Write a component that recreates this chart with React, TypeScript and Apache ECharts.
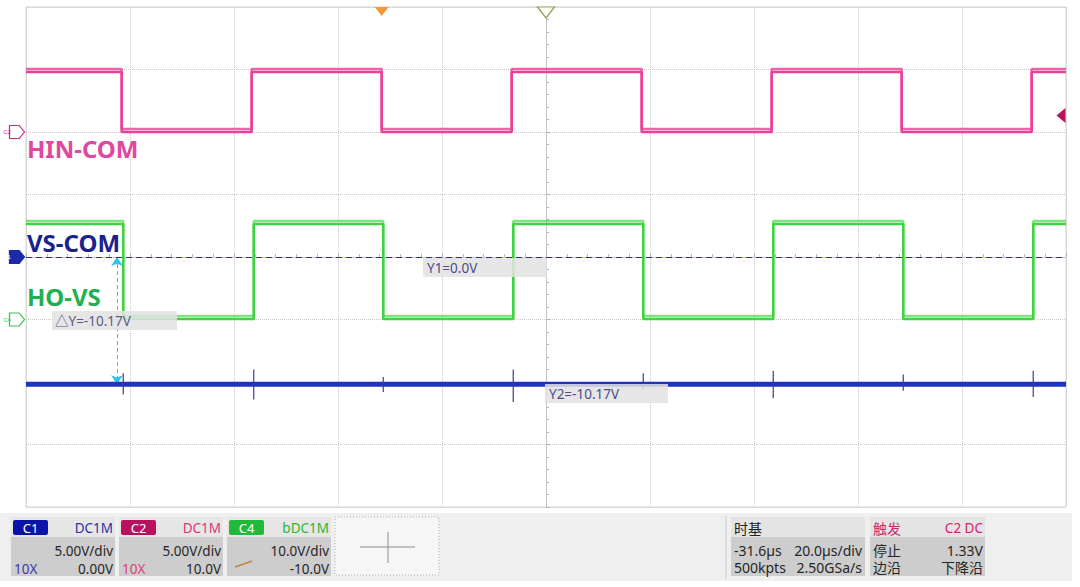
import React, { useEffect, useRef } from "react";
import * as echarts from "echarts";

// ---- Time base (µs) ----
const DELAY = -31.6; // horizontal position readout
const X_MIN = -100;
const X_MAX = 100;
const X_DIV = 20; // µs/div
const Y_MIN = -4;
const Y_MAX = 4;

// ---- Channel settings (V/div, offset V) ----
const C1_SCALE = 5;
const C1_OFFSET = 0;
const C2_SCALE = 5;
const C2_OFFSET = 10;
const C4_SCALE = 10;
const C4_OFFSET = -10;

// ---- HIN-COM (C2) : edge times from trigger (µs) and segment levels (V) ----
const HIN_EDGES = [-50, -25, 0, 25, 50, 75, 100, 125];
const HIN_LEVELS = [4.8, 0.0, 4.8, 0.0, 4.8, 0.0, 4.8, 0.0, 4.8];

// ---- HO-VS (C4) ----
const HO_EDGES = [-49.7, -24.6, 0.3, 25.3, 50.3, 75.3, 100.3, 125.3];
const HO_LEVELS = [15.3, 0.1, 15.3, 0.1, 15.3, 0.1, 15.3, 0.1, 15.3];

// ---- VS-COM (C1) : flat level with switching spikes ----
const VS_LEVEL = -10.17;
const VS_SPIKE_HI = [-9.3, -9.0, -9.6, -9.0, -9.3, -9.1, -9.4, -9.1];
const VS_SPIKE_LO = [-11.0, -11.4, -10.8, -11.6, -10.6, -11.3, -10.7, -11.2];

// ---- Cursors ----
const Y1_VALUE = 0.0;
const Y2_VALUE = -10.17;
const DY_CURSOR_T = -50.9;
const TRIGGER_LEVEL = 1.33;

const FONT = '"Noto Sans", "Noto Sans CJK SC", sans-serif';

const C_PINK = "#ea3f98";
const C_GREEN = "#3fd33f";
const C_BLUE = "#1f33c2";

function pos(v: number, scale: number, offset: number) {
  return (v + offset) / scale;
}

function stepPoints(edges: number[], levels: number[], scale: number, offset: number) {
  const pts: number[][] = [[X_MIN, pos(levels[0], scale, offset)]];
  edges.forEach((t, i) => {
    const x = t + DELAY;
    pts.push([x, pos(levels[i], scale, offset)]);
    pts.push([x, pos(levels[i + 1], scale, offset)]);
  });
  pts.push([X_MAX, pos(levels[levels.length - 1], scale, offset)]);
  return pts;
}

function vsBase() {
  const base = pos(VS_LEVEL, C1_SCALE, C1_OFFSET);
  return [
    [X_MIN, base],
    [X_MAX, base],
  ];
}

function vsSpikes() {
  const out: any[] = [];
  HO_EDGES.forEach((t, i) => {
    const x = t + DELAY;
    out.push([x, pos(VS_SPIKE_HI[i], C1_SCALE, C1_OFFSET)]);
    out.push([x, pos(VS_SPIKE_LO[i], C1_SCALE, C1_OFFSET)]);
    out.push([x, null]);
  });
  return out;
}

function txt(x: number, y: number, text: string, fill: string, o: any = {}) {
  const align = o.align || "left";
  return {
    type: "text",
    x,
    y,
    z: 100,
    silent: true,
    style: {
      text,
      fill,
      fontSize: o.size || 13.5,
      fontFamily: FONT,
      fontWeight: o.weight || "normal",
      align,
      textAlign: align,
      verticalAlign: "middle",
      textVerticalAlign: "middle",
    },
  };
}

function rect(x: number, y: number, w: number, h: number, fill: string, extra: any = {}) {
  return {
    type: "rect",
    z: 90,
    silent: true,
    shape: { x, y, width: w, height: h, r: extra.r || 0 },
    style: { fill, stroke: extra.stroke || null, lineWidth: extra.lineWidth || 0, lineDash: extra.lineDash || null },
  };
}

function line(x1: number, y1: number, x2: number, y2: number, stroke: string, w = 1) {
  return {
    type: "line",
    z: 95,
    silent: true,
    shape: { x1, y1, x2, y2 },
    style: { stroke, lineWidth: w },
  };
}

function channelPanel(x: number, name: string, badge: string, coupling: string, cColor: string, vdiv: string, probe: string, probeColor: string, offset: string) {
  const els: any[] = [
    rect(x, 517, 104, 20, "#e6e6e6"),
    rect(x + 2, 520, 35, 15, badge, { r: 2 }),
    txt(x + 19.5, 528, name, "#ffffff", { align: "center", size: 13 }),
    txt(x + 102, 528, coupling, cColor, { align: "right", size: 13.5 }),
    rect(x, 537, 104, 39, "#cdcdcd"),
    txt(x + 102, 551, vdiv, "#262626", { align: "right" }),
    txt(x + 102, 569, offset, "#262626", { align: "right" }),
  ];
  if (probe) els.push(txt(x + 3, 569, probe, probeColor));
  return els;
}

function buildGraphics() {
  const g: any[] = [];
  // status band
  g.push(rect(0, 513, 1072, 68, "#efefef"));
  g.push(...channelPanel(11, "C1", "#0b14a8", "DC1M", "#3030a2", "5.00V/div", "10X", "#3a3aa6", "0.00V"));
  g.push(...channelPanel(119, "C2", "#b8125f", "DC1M", "#d23a7c", "5.00V/div", "10X", "#e0407e", "10.0V"));
  g.push(...channelPanel(227, "C4", "#22b83a", "bDC1M", "#2fb52f", "10.0V/div", "", "", "-10.0V"));
  g.push(line(235, 567, 252, 561, "#c9823e", 1.5));
  // empty add panel
  g.push(rect(335, 517, 104, 58, "#f6f6f6", { stroke: "#b0b0b0", lineWidth: 1, lineDash: [1, 2] }));
  g.push(line(360, 547, 415, 547, "#8c8c8c", 1));
  g.push(line(388, 532, 388, 563, "#8c8c8c", 1));
  // divider
  g.push(line(726, 515, 726, 579, "#cfcfcf", 1));
  // timebase panel
  g.push(rect(731, 517, 134, 20, "#e4e4e4"));
  g.push(txt(734, 528, "时基", "#222222", { size: 14 }));
  g.push(rect(731, 537, 134, 39, "#cdcdcd"));
  g.push(txt(734, 550, "-31.6µs", "#262626", { size: 14 }));
  g.push(txt(862, 550, "20.0µs/div", "#262626", { size: 14, align: "right" }));
  g.push(txt(734, 567, "500kpts", "#262626", { size: 14 }));
  g.push(txt(862, 567, "2.50GSa/s", "#262626", { size: 14, align: "right" }));
  // trigger panel
  g.push(rect(870, 517, 115, 20, "#e4e4e4"));
  g.push(txt(873, 528, "触发", "#d0246e", { size: 14 }));
  g.push(txt(983, 528, "C2 DC", "#d0246e", { size: 13.5, align: "right" }));
  g.push(rect(870, 537, 115, 39, "#cdcdcd"));
  g.push(txt(873, 550, "停止", "#262626", { size: 14 }));
  g.push(txt(983, 550, "1.33V", "#262626", { size: 14, align: "right" }));
  g.push(txt(873, 567, "边沿", "#262626", { size: 14 }));
  g.push(txt(983, 567, "下降沿", "#262626", { size: 14, align: "right" }));

  // channel labels
  g.push(txt(27, 148, "HIN-COM", "#e0479e", { size: 24, weight: "bold" }));
  g.push(txt(27, 242, "VS-COM", "#1b2290", { size: 24, weight: "bold" }));
  g.push(txt(27, 296, "HO-VS", "#21b04f", { size: 24, weight: "bold" }));

  // cursor readouts
  g.push(rect(423, 258, 124, 19, "rgba(226,226,226,0.85)"));
  g.push(txt(427, 268, "Y1=0.0V", "#4b4b8c", { size: 13.5 }));
  g.push(rect(545, 384, 123, 19, "rgba(226,226,226,0.85)"));
  g.push(txt(549, 394, "Y2=-10.17V", "#4b4b8c", { size: 13.5 }));
  g.push(rect(52, 311, 125, 19, "rgba(226,226,226,0.85)"));
  g.push(txt(55, 321, "△Y=-10.17V", "#5a5a8a", { size: 13.5 }));
  return g;
}

const PENT = "path://M0,0 L9,0 L14,6 L9,12 L0,12 Z";

function chMarker(offsetPos: number, color: string, filled: boolean, label: string) {
  return {
    coord: [X_MIN, offsetPos],
    symbol: PENT,
    symbolSize: [15, 13],
    symbolOffset: [-9, 0],
    itemStyle: {
      color: filled ? color : "#ffffff",
      borderColor: color,
      borderWidth: 1.2,
    },
    label: { show: true, formatter: label, fontSize: 6, color: filled ? "#ffffff" : color, offset: [-10, 0] },
  };
}

export default function App() {
  const ref = useRef<HTMLDivElement>(null);
  useEffect(() => {
    const chart = echarts.init(ref.current!, null, { renderer: "svg" });
    const hin = stepPoints(HIN_EDGES, HIN_LEVELS, C2_SCALE, C2_OFFSET);
    const ho = stepPoints(HO_EDGES, HO_LEVELS, C4_SCALE, C4_OFFSET);
    const y1 = pos(Y1_VALUE, C1_SCALE, C1_OFFSET);
    const y2 = pos(Y2_VALUE, C1_SCALE, C1_OFFSET);
    const cx = DY_CURSOR_T + DELAY;

    const option: any = {
      animation: false,
      backgroundColor: "#ffffff",
      grid: {
        left: 26,
        top: 7,
        width: 1040,
        height: 500,
        show: true,
        borderColor: "#d4d4d4",
        borderWidth: 1,
        backgroundColor: "#ffffff",
      },
      xAxis: {
        type: "value",
        min: X_MIN,
        max: X_MAX,
        interval: X_DIV,
        axisLine: { show: true, onZero: true, lineStyle: { color: "#c4c4c4", width: 1 } },
        axisTick: { show: true, inside: true, length: 4, lineStyle: { color: "#b0b0b0" } },
        minorTick: { show: true, splitNumber: 5, length: 3, lineStyle: { color: "#b8b8b8" } },
        axisLabel: { show: false },
        splitLine: { show: true, lineStyle: { type: "dotted", color: "#c9c9c9", width: 1 } },
      },
      yAxis: {
        type: "value",
        min: Y_MIN,
        max: Y_MAX,
        interval: 1,
        axisLine: { show: true, onZero: true, lineStyle: { color: "#c4c4c4", width: 1 } },
        axisTick: { show: true, inside: true, length: 4, lineStyle: { color: "#b0b0b0" } },
        minorTick: { show: true, splitNumber: 5, length: 3, lineStyle: { color: "#b8b8b8" } },
        axisLabel: { show: false },
        splitLine: { show: true, lineStyle: { type: "dotted", color: "#c9c9c9", width: 1 } },
      },
      series: [
        {
          name: "HIN-COM",
          type: "line",
          data: hin,
          showSymbol: false,
          symbol: "none",
          z: 5,
          lineStyle: { color: C_PINK, width: 2.5, shadowColor: "rgba(234,63,152,0.8)", shadowBlur: 0, shadowOffsetY: -3 },
          markPoint: {
            silent: true,
            data: [
              chMarker(pos(0, C2_SCALE, C2_OFFSET), "#d0307f", false, "C2"),
              {
                coord: [X_MAX, pos(TRIGGER_LEVEL, C2_SCALE, C2_OFFSET)],
                symbol: "path://M10,0 L0,7 L10,14 Z",
                symbolSize: [9, 15],
                symbolOffset: [-5, 0],
                itemStyle: { color: "#b8125f" },
                label: { show: false },
              },
              {
                coord: [DELAY, Y_MAX],
                symbol: "path://M0,0 L14,0 L7,9 Z",
                symbolSize: [14, 9],
                symbolOffset: [0, 4.5],
                itemStyle: { color: "#f29a38" },
                label: { show: false },
              },
              {
                coord: [0, Y_MAX],
                symbol: "path://M0,0 L18,0 L9,12 Z",
                symbolSize: [17, 11],
                symbolOffset: [0, 5.5],
                itemStyle: { color: "#ffffff", borderColor: "#a3a35a", borderWidth: 1.3 },
                label: { show: false },
              },
            ],
          },
        },
        {
          name: "HO-VS",
          type: "line",
          data: ho,
          showSymbol: false,
          symbol: "none",
          z: 4,
          lineStyle: { color: C_GREEN, width: 2.5, shadowColor: "rgba(63,211,63,0.65)", shadowBlur: 0, shadowOffsetY: -3 },
          markPoint: {
            silent: true,
            data: [chMarker(pos(0, C4_SCALE, C4_OFFSET), "#3cc24a", false, "C4")],
          },
          markLine: {
            silent: true,
            symbol: ["arrow", "arrow"],
            symbolSize: [9, 9],
            label: { show: false },
            lineStyle: { color: "#27c6e6", type: [4, 3], width: 1 },
            data: [[{ coord: [cx, y1] }, { coord: [cx, y2] }]],
          },
        },
        {
          name: "VS-COM",
          type: "line",
          data: vsBase(),
          showSymbol: false,
          symbol: "none",
          z: 6,
          lineStyle: { color: C_BLUE, width: 5 },
          markPoint: {
            silent: true,
            data: [chMarker(pos(0, C1_SCALE, C1_OFFSET), "#1b2aa8", true, "C1")],
          },
          markLine: {
            silent: true,
            symbol: ["none", "none"],
            label: { show: false },
            lineStyle: { color: "#2c2f88", type: [6, 4], width: 1.2 },
            data: [{ yAxis: y1 }, { yAxis: y2 }],
          },
        },
        {
          name: "VS-COM spikes",
          type: "line",
          data: vsSpikes(),
          connectNulls: false,
          showSymbol: false,
          symbol: "none",
          z: 7,
          lineStyle: { color: "#3a3f8e", width: 1.2 },
        },
      ],
      graphic: buildGraphics(),
    };
    chart.setOption(option);
    return () => chart.dispose();
  }, []);
  return (
    <div
      ref={ref}
      style={{ position: "absolute", left: 0, top: 0, width: 1080, height: 587, background: "#ffffff" }}
    />
  );
}
